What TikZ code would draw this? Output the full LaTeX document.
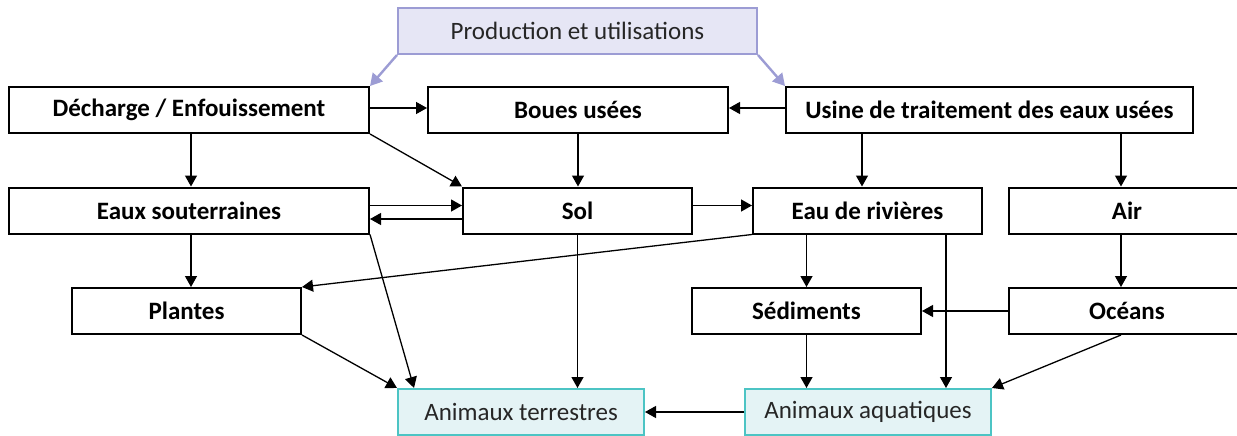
\documentclass[tikz,border=0pt]{standalone}
\usepackage{fontspec}
\setmainfont{Carlito}
\usetikzlibrary{arrows.meta}
\definecolor{lavfill}{HTML}{E6E6F5}
\definecolor{lavline}{HTML}{9C9CD4}
\definecolor{cyfill}{HTML}{E4F3F5}
\definecolor{cyline}{HTML}{4CC4C4}
\definecolor{txtgray}{HTML}{262626}
\begin{document}
\begin{tikzpicture}[x=1pt,y=-1pt,
  bx/.style={draw=black,line width=2pt,fill=white,inner sep=0pt,minimum height=46pt,
    font=\fontsize{25}{30}\selectfont\bfseries,anchor=center},
  cbx/.style={draw=cyline,line width=2pt,fill=cyfill,inner sep=0pt,minimum height=46pt,
    font=\fontsize{25}{30}\selectfont,text=txtgray,anchor=center},
  pbx/.style={draw=lavline,line width=2pt,fill=lavfill,inner sep=0pt,minimum height=46pt,
    font=\fontsize{25}{30}\selectfont,text=txtgray,anchor=center},
  arr/.style={line width=1.3pt,-{Triangle[length=11pt,width=12pt]}},
  parr/.style={draw=lavline,line width=2.4pt,-{Triangle[length=12pt,width=13pt]},lavline}]
\useasboundingbox (0,0) rectangle (1237,436);
\clip (0,0) rectangle (1237,436);
\fill[white] (0,0) rectangle (1237,436);
% nodes
\node[pbx,minimum width=359pt] (prod) at (577.5,31) {Production et utilisations};
\node[bx,minimum width=360pt] (dech) at (189,110) {Décharge / Enfouissement};
\node[bx,minimum width=300pt] (boues) at (578,110) {Boues usées};
\node[bx,minimum width=407pt] (usine) at (989.5,110) {Usine de traitement des eaux usées};
\node[bx,minimum width=360pt] (eaux) at (189,210.5) {Eaux souterraines};
\node[bx,minimum width=229pt] (sol) at (577.5,210.5) {Sol};
\node[bx,minimum width=229pt] (eau) at (867.5,210.5) {Eau de rivières};
\node[bx,minimum width=236pt] (air) at (1127,210.5) {Air};
\node[bx,minimum width=229pt] (plantes) at (186.5,311) {Plantes};
\node[bx,minimum width=229pt] (sed) at (806.5,311) {Sédiments};
\node[bx,minimum width=236pt] (oceans) at (1127,311) {Océans};
\node[cbx,minimum width=246pt] (at) at (521,412) {Animaux terrestres};
\node[cbx,minimum width=246pt] (aa) at (868,412) {Animaux aquatiques};
% production arrows
\draw[parr] (prod.south west) -- (dech.north east);
\draw[parr] (prod.south east) -- (usine.north west);
% row 1
\draw[arr] ([yshift=2pt]dech.east) -- ([yshift=2pt]boues.west);
\draw[arr] ([yshift=2pt]usine.west) -- ([yshift=2pt]boues.east);
\draw[arr] ([xshift=2pt]dech.south) -- ([xshift=2pt]eaux.north);
\draw[arr] (dech.south east) -- (sol.north west);
\draw[arr] (boues.south) -- (boues.south |- sol.north);
\coordinate (ue) at ([xshift=-5.5pt]eau.north);
\draw[arr] (usine.south -| ue) -- (ue);
\coordinate (ua) at ([xshift=-6pt]air.north);
\draw[arr] (usine.south -| ua) -- (ua);
% row 2
\draw[arr] ([yshift=5pt]eaux.east) -- ([yshift=5pt]sol.west);
\draw[arr] ([yshift=-8.5pt]sol.west) -- ([yshift=-8.5pt]eaux.east);
\draw[arr] ([yshift=5pt]sol.east) -- ([yshift=5pt]eau.west);
\coordinate (ep) at ([xshift=4.5pt]plantes.north);
\draw[arr] (eaux.south -| ep) -- (ep);
\draw[arr] (eau.south west) -- (plantes.north east);
\draw[arr] (eaux.south east) -- ([xshift=17pt]at.north west);
\draw[arr] (sol.south) -- (sol.south |- at.north);
\draw[arr] (eau.south -| sed.north) -- (sed.north);
\coordinate (ea) at ([xshift=78pt]aa.north);
\draw[arr] (eau.south -| ea) -- (ea);
\draw[arr] (ua |- air.south) -- (ua |- oceans.north);
% row 3
\draw[arr] (oceans.west) -- (sed.east);
\draw[arr] (plantes.south east) -- (at.north west);
\draw[arr] (sed.south) -- (sed.south |- aa.north);
\draw[arr] (ua |- oceans.south) -- (aa.north east);
% row 4
\draw[arr] (aa.west) -- (at.east);
\end{tikzpicture}
\end{document}
